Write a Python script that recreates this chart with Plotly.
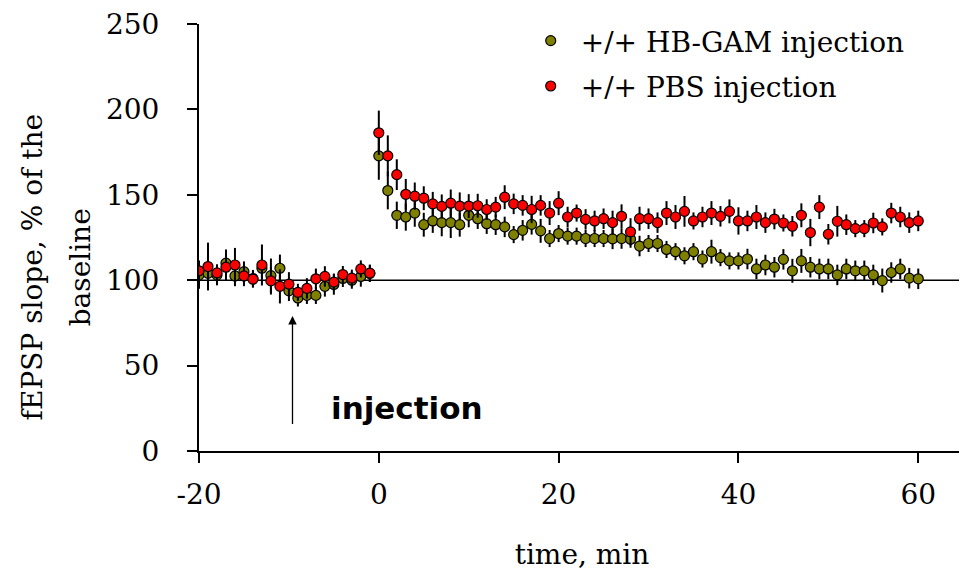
import plotly.graph_objects as go

time_min = [-20, -19, -18, -17, -16, -15, -14, -13, -12, -11, -10, -9, -8, -7, -6, -5, -4, -3, -2, -1,
            0, 1, 2, 3, 4, 5, 6, 7, 8, 9, 10, 11, 12, 13, 14, 15, 16, 17, 18, 19, 20,
            21, 22, 23, 24, 25, 26, 27, 28, 29, 30, 31, 32, 33, 34, 35, 36, 37, 38, 39, 40,
            41, 42, 43, 44, 45, 46, 47, 48, 49, 50, 51, 52, 53, 54, 55, 56, 57, 58, 59, 60]

hbgam_mean = [103, 104, 103, 110, 102.5, 105, 101, 107, 102.7, 107, 93.8, 89.6, 91.1, 91.1, 96.4, 97.5, 101, 100, 102.2, 104,
              172.8, 152.5, 138, 137, 139.3, 132.5, 134.7, 133.7, 133.7, 132.5, 138,
              136, 133.1, 132.5, 131.2, 126.7, 129.2, 132.7, 128.9, 124.4, 127.3,
              125.8, 125.8, 124.4, 124.4, 124.4, 124.2, 124.4, 124, 120, 121.5,
              121.5, 118, 116.7, 114.3, 116.7, 112.4, 116.7, 113.2, 111.3, 111.3,
              112.4, 106.6, 108.9, 107.6, 112.2, 105.5, 111.3, 107.6, 106.6, 106.6,
              103.1, 106.6, 105.5, 105.5, 103.1, 99.8, 104.5, 106.6, 101.2, 100.8]
hbgam_sem = [8, 6, 6, 8, 6, 6, 5, 6, 10, 8, 6, 5, 5, 5, 6, 6, 5, 5, 6, 5,
             14, 11, 8, 8, 8, 7, 7, 8, 9, 7, 7,
             6, 6, 6, 6, 5, 6, 6, 7, 5, 5,
             5, 5, 5, 5, 5, 6, 6, 5, 6, 5,
             5, 5, 5, 5, 5, 5, 7, 5, 5, 5,
             6, 6, 6, 6, 6, 7, 7, 6, 6, 6,
             6, 6, 6, 6, 6, 7, 6, 6, 6, 6]

pbs_mean = [105.5, 108, 104.3, 107.6, 108.9, 102.5, 100.6, 108.9, 99.6, 96.4, 97.7, 92.9, 95.2, 100.8, 102.2, 98.9, 103.3, 101.2, 106.6, 104.1,
            186.3, 172.8, 161.8, 150.3, 149.2, 148.0, 144.7, 143.2, 145.1, 143.4, 143.4,
            143.6, 141.4, 142.8, 148.6, 144.7, 143.8, 141.4, 143.8, 139.3, 145.1,
            137, 139.3, 135.6, 134.7, 136, 133.7, 137.4, 128.3, 136, 136,
            133.7, 139.3, 137, 140.3, 134.7, 137, 139.3, 137.4, 140.3, 134.7,
            134.7, 137, 133.7, 135.8, 133.5, 131.6, 138, 127.9, 142.8, 126.9,
            134.5, 132.5, 130.2, 130.2, 133.5, 131.2, 139.3, 137, 133.7, 134.7]
pbs_sem = [6, 14, 5, 8, 10, 6, 5, 12, 8, 10, 7, 5, 6, 6, 6, 5, 5, 5, 5, 5,
           13, 12, 9, 9, 8, 7, 7, 7, 8, 8, 7,
           7, 6, 6, 7, 6, 6, 8, 6, 7, 7,
           6, 5, 6, 6, 6, 7, 7, 8, 7, 6,
           6, 7, 7, 9, 5, 6, 7, 6, 7, 8,
           6, 7, 6, 6, 5, 6, 7, 8, 7, 6,
           9, 6, 5, 5, 6, 5, 6, 6, 6, 6]

series_names = ["+/+ HB-GAM injection", "+/+ PBS injection"]
x_ticks = [-20, 0, 20, 40, 60]
x_tick_text = ["-20", "0", "20", "40", "60"]
y_ticks = [0, 50, 100, 150, 200, 250]

SERIF = "DejaVu Serif, Liberation Serif, serif"
FS = 28

fig = go.Figure()
fig.add_trace(go.Scatter(
    x=time_min, y=hbgam_mean, mode="markers", name=series_names[0], legendgroup="a",
    marker=dict(color="#808000", size=10, line=dict(color="black", width=1.2)),
    error_y=dict(type="data", array=hbgam_sem, visible=True, color="black", thickness=2, width=0),
))
fig.add_trace(go.Scatter(
    x=time_min, y=pbs_mean, mode="markers", name=series_names[1], legendgroup="b",
    marker=dict(color="#ff0000", size=10, line=dict(color="black", width=1.2)),
    error_y=dict(type="data", array=pbs_sem, visible=True, color="black", thickness=2, width=0),
))

# baseline reference line at 100 %
fig.add_shape(type="line", xref="paper", yref="y", x0=0, x1=1, y0=100, y1=100,
              line=dict(color="black", width=1.5), layer="below")

# injection arrow
fig.add_annotation(x=-9.6, y=79, ax=-9.6, ay=15, xref="x", yref="y", axref="x", ayref="y",
                   text="", showarrow=True, arrowhead=2, arrowsize=1.3, arrowwidth=1.3, arrowcolor="black")
fig.add_annotation(x=-5.5, y=25, xref="x", yref="y", text="<b>injection</b>", showarrow=False,
                   xanchor="left", yanchor="middle",
                   font=dict(family="DejaVu Sans, Arial, sans-serif", size=31, color="black"))

# y-axis title (two lines)
fig.add_annotation(x=-0.2180, y=0.43, xref="paper", yref="paper", text="fEPSP slope, % of the",
                   textangle=-90, showarrow=False, xanchor="center", yanchor="middle",
                   font=dict(family=SERIF, size=FS, color="black"))
fig.add_annotation(x=-0.1554, y=0.43, xref="paper", yref="paper", text="baseline",
                   textangle=-90, showarrow=False, xanchor="center", yanchor="middle",
                   font=dict(family=SERIF, size=FS, color="black"))

fig.update_layout(
    width=959, height=569,
    margin=dict(l=191, r=2, t=16, b=126),
    paper_bgcolor="white", plot_bgcolor="white",
    font=dict(family=SERIF, size=FS, color="black"),
    showlegend=True,
    legend=dict(x=0.42, y=1.019, xanchor="left", yanchor="top", bgcolor="rgba(0,0,0,0)",
                font=dict(family=SERIF, size=FS, color="black"), tracegroupgap=6,
                itemwidth=50),
    xaxis=dict(range=[-20, 65.2], tickvals=x_ticks, ticktext=x_tick_text, ticks="outside",
               ticklen=10, tickwidth=1.5, tickcolor="black", showline=True, linecolor="black",
               linewidth=2, showgrid=False, zeroline=False, ticklabelstandoff=7, automargin=False,
               ticklabeloverflow="allow",
               title=dict(text="time, min", standoff=35, font=dict(family=SERIF, size=FS))),
    yaxis=dict(range=[0, 250], tickvals=y_ticks, ticks="outside", ticklen=10, tickwidth=1.5,
               tickcolor="black", showline=True, linecolor="black", linewidth=2, showgrid=False,
               zeroline=False, ticklabelstandoff=22, automargin=False, ticklabeloverflow="allow"),
)

fig.write_html("out.html")
